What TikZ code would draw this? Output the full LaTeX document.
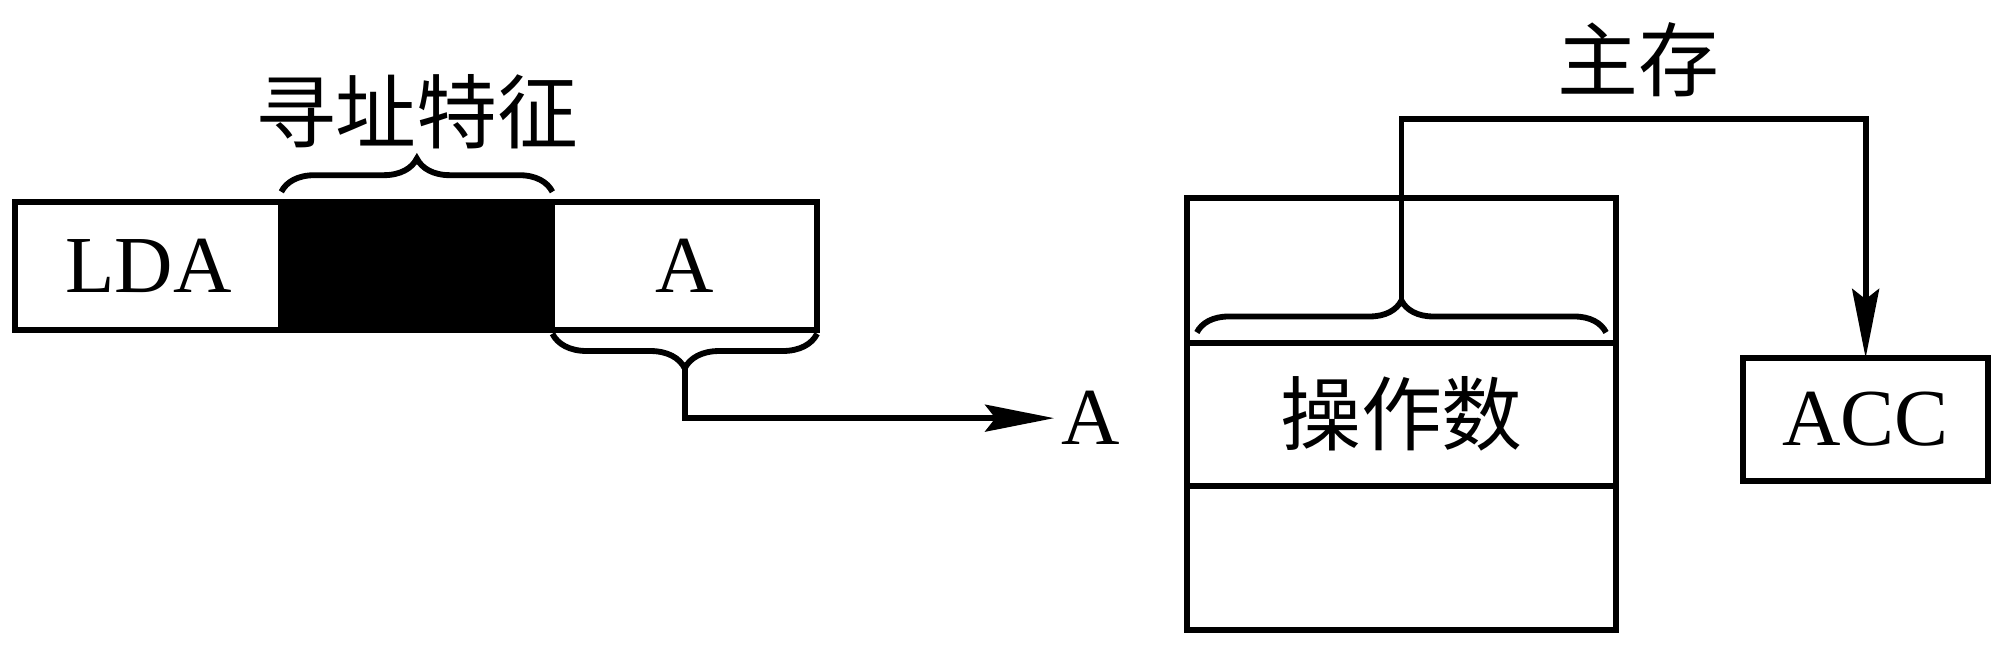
\documentclass[tikz,border=0pt]{standalone}
\usepackage{fontspec}
\setmainfont{Liberation Serif}
\newfontfamily\cjk{Noto Sans CJK SC}
\usetikzlibrary{positioning,arrows.meta,decorations.pathreplacing}

\tikzset{
    cell/.style={draw, line width=1.3pt, outer sep=0pt, inner sep=0pt, font=\fontsize{18}{20}\selectfont},
    brace/.style={decorate, line width=1.3pt, decoration={brace, amplitude=#1}},
    link/.style={line width=1.3pt, -{Stealth[length=5.4mm, width=2.1mm, inset=0.8mm]}},
    cnlabel/.style={inner sep=0pt, font=\cjk\fontsize{18}{20}\selectfont}
}

\begin{document}
\begin{tikzpicture}
\useasboundingbox (0,0) rectangle (15.68,5.10);

% Instruction word
\node[cell, minimum width=2.08cm, minimum height=1cm] (ldacell) at (1.16,3.02) {LDA};
\node[cell, fill=black, minimum width=2.12cm, minimum height=1cm, right=0pt of ldacell] (featcell) {};
\node[cell, minimum width=2.07cm, minimum height=1cm, right=0pt of featcell] (addrcell) {A};

% Addressing feature brace
\draw[brace=0.26cm] ([yshift=0.08cm]featcell.north west) -- ([yshift=0.08cm]featcell.north east);
\node[cnlabel] (featlabel) at (3.26,4.23) {寻址特征};

% Address field brace and the address
\draw[brace=0.27cm] ([yshift=-0.03cm]addrcell.south east) -- ([yshift=-0.03cm]addrcell.south west);
\coordinate (addrtip) at ([yshift=-0.30cm]addrcell.south);
\node[inner sep=0.5mm, font=\fontsize{18}{20}\selectfont] (alabel) at (8.53,1.83) {A};
\draw[link] (addrtip) |- (alabel);

% Main memory
\node[cell, minimum width=3.36cm, minimum height=1.13cm] (memtop) at (10.96,2.985) {};
\node[cell, cnlabel, draw, minimum width=3.36cm, minimum height=1.12cm, below=0pt of memtop] (operand) {操作数};
\node[cell, minimum width=3.36cm, minimum height=1.13cm, below=0pt of operand] (membot) {};
\node[cnlabel] (memlabel) at (12.81,4.63) {主存};

% Operand brace and path to the accumulator
\draw[brace=0.25cm] ([xshift=0.08cm, yshift=0.08cm]operand.north west) -- ([xshift=-0.08cm, yshift=0.08cm]operand.north east);
\coordinate (optip) at ([yshift=0.33cm]operand.north);
\coordinate (turn) at (14.59,4.17);
\node[cell, minimum width=1.92cm, minimum height=0.96cm] (acc) at (14.59,1.82) {ACC};
\draw[link] (optip) |- (turn) -- (acc.north);
\end{tikzpicture}
\end{document}
